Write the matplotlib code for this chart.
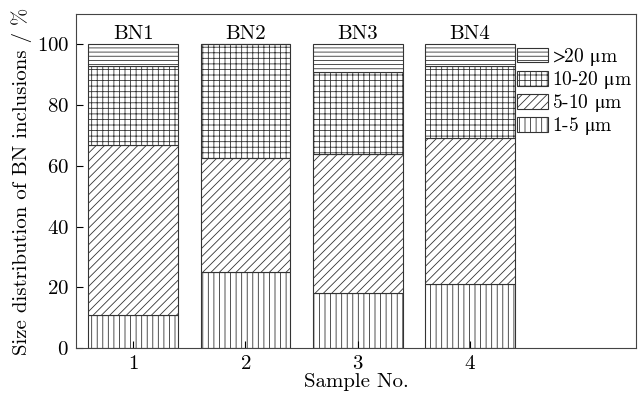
import matplotlib
matplotlib.use('Agg')
import matplotlib.pyplot as plt
import numpy as np

plt.rcParams['font.family'] = ['cmr10', 'DejaVu Serif']
plt.rcParams['mathtext.fontset'] = 'stix'
plt.rcParams['axes.formatter.use_mathtext'] = True
plt.rcParams['hatch.linewidth'] = 0.6
plt.rcParams['hatch.color'] = '#444444'

# datos
samples = [1, 2, 3, 4]
names = ['BN1', 'BN2', 'BN3', 'BN4']
size_1_5 = [11, 25, 18, 21]
size_5_10 = [56, 37.5, 46, 48]
size_10_20 = [26, 37.5, 27, 24]
size_20 = [7, 0, 9, 7]

series = [
    (size_1_5, '|||', r'1-5 $\mathrm{\mu}$m'),
    (size_5_10, '////', r'5-10 $\mathrm{\mu}$m'),
    (size_10_20, '+++', r'10-20 $\mathrm{\mu}$m'),
    (size_20, '----', r'$\!>\!\!$20 $\mathrm{\mu}$m'),
]

fig, ax = plt.subplots(figsize=(6.38, 4.0), dpi=100)
fig.subplots_adjust(left=0.119, right=0.997, bottom=0.13, top=0.965)

bottom = np.zeros(len(samples))
handles = []
for vals, hatch, label in series:
    b = ax.bar(samples, vals, width=0.8, bottom=bottom, color='white',
               edgecolor='#333333', linewidth=0.8, hatch=hatch, label=label)
    handles.append(b)
    bottom += np.array(vals)

for x, n, top in zip(samples, names, bottom):
    ax.text(x, top + 1.8, n, ha='center', va='baseline', fontsize=15)

ax.set_xlim(0.49, 5.48)
ax.set_ylim(0, 110)
ax.set_xticks(samples)
ax.set_yticks([0, 20, 40, 60, 80, 100])
ax.tick_params(direction='in', labelsize=15, length=5, pad=5)
ax.set_xlabel('Sample No.', fontsize=15, labelpad=0)
ax.set_ylabel('Size distribution of BN inclusions / %', fontsize=15, labelpad=3)
for s in ax.spines.values():
    s.set_color('#444444')

ax.legend(handles[::-1], [s[2] for s in series][::-1], loc='upper left',
          bbox_to_anchor=(0.788, 0.905), frameon=False, fontsize=14,
          handlelength=1.6, handleheight=0.8, handletextpad=0.2,
          labelspacing=0.06, borderaxespad=0, borderpad=0)

fig.savefig('out.png', dpi=100)
